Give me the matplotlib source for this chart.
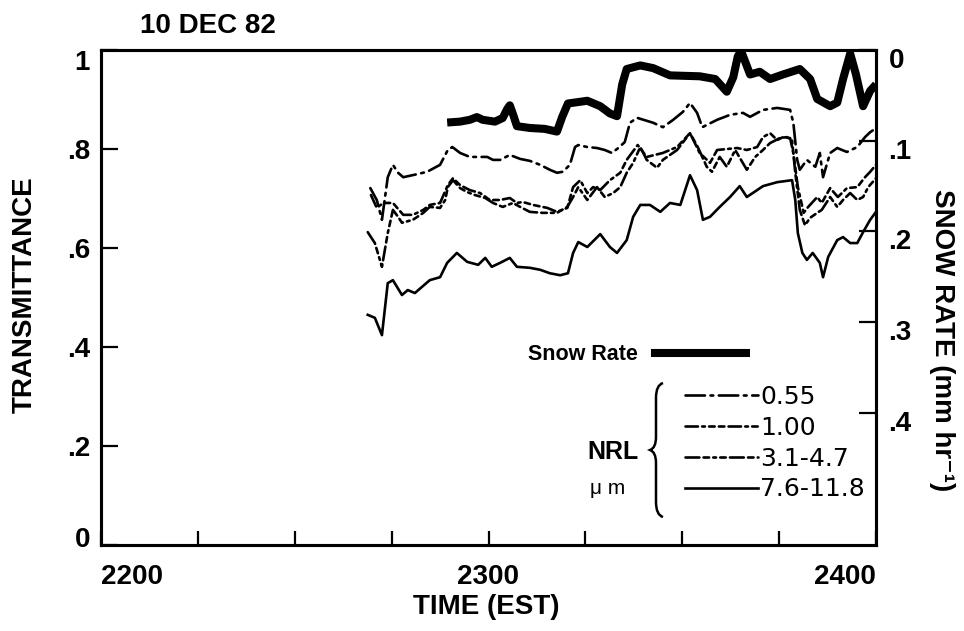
import matplotlib
matplotlib.use("Agg")
import matplotlib.pyplot as plt
from matplotlib.lines import Line2D
from matplotlib.path import Path
from matplotlib.patches import PathPatch
from matplotlib.transforms import ScaledTranslation, Affine2D

plt.rcParams["font.family"] = ["Liberation Sans", "DejaVu Sans"]
plt.rcParams["font.weight"] = "bold"
plt.rcParams["lines.scale_dashes"] = False

# Time axis: minutes after 2200 EST
snow_t = [53.6, 55.6, 57.1, 58.2, 59.1, 61.0, 62.2, 62.9, 63.3, 63.8,
          64.4, 66.4, 68.7, 70.6, 71.4, 72.3, 75.3, 77.3, 78.8, 79.9,
          80.7, 81.4, 83.5, 85.5, 88.1, 92.7, 95.1, 96.9, 97.9, 98.6,
          99.1, 99.7, 100.5, 102.0, 103.6, 105.6, 108.2, 109.8, 110.9, 112.9,
          114.0, 114.9, 116.0, 116.9, 118.0, 119.1, 120.0]
snow_rate = [0.080, 0.079, 0.077, 0.074, 0.077, 0.079, 0.075, 0.065, 0.061, 0.071,
             0.084, 0.086, 0.087, 0.090, 0.074, 0.059, 0.056, 0.062, 0.070, 0.073,
             0.038, 0.021, 0.017, 0.020, 0.028, 0.029, 0.032, 0.046, 0.030, 0.007,
             0.001, 0.012, 0.027, 0.024, 0.032, 0.027, 0.021, 0.032, 0.054, 0.062,
             0.058, 0.032, 0.004, 0.027, 0.062, 0.045, 0.038]

# 0.55 um
t_055 = [41.7, 42.7, 43.5, 44.4, 45.2, 46.0, 46.8, 48.9, 50.5, 52.5,
         53.7, 54.4, 55.6, 57.1, 58.7, 59.8, 60.7, 61.8, 63.3, 64.9,
         66.4, 68.0, 69.5, 70.6, 71.5, 72.6, 73.4, 73.9, 75.3, 76.8,
         78.0, 79.1, 80.1, 81.1, 81.9, 83.0, 85.5, 87.0, 88.6, 90.1,
         91.2, 92.3, 93.1, 95.4, 97.4, 99.4, 100.5, 102.5, 104.7, 106.7,
         107.2, 107.8, 108.2, 109.3, 110.6, 111.3, 111.8, 112.9, 114.0, 115.5,
         117.1, 118.3, 119.1, 120.0]
tr_055 = [0.721, 0.697, 0.657, 0.743, 0.768, 0.752, 0.743, 0.749, 0.754, 0.768,
          0.798, 0.804, 0.792, 0.784, 0.784, 0.784, 0.778, 0.778, 0.788, 0.780,
          0.776, 0.768, 0.758, 0.752, 0.754, 0.768, 0.804, 0.808, 0.804, 0.802,
          0.798, 0.792, 0.802, 0.814, 0.853, 0.863, 0.853, 0.844, 0.859, 0.875,
          0.893, 0.873, 0.844, 0.859, 0.869, 0.873, 0.865, 0.879, 0.883, 0.879,
          0.853, 0.778, 0.758, 0.778, 0.764, 0.792, 0.743, 0.792, 0.802, 0.794,
          0.804, 0.824, 0.834, 0.842]

# 1.00 um
t_100 = [41.8, 42.7, 43.7, 45.2, 46.8, 48.3, 49.9, 50.9, 52.5, 53.7,
         54.5, 55.6, 57.1, 58.7, 60.2, 61.8, 63.3, 64.4, 65.3, 66.9,
         69.1, 70.6, 72.2, 73.1, 74.2, 75.3, 76.2, 77.3, 78.8, 80.4,
         81.4, 83.1, 84.5, 87.0, 89.2, 91.2, 92.7, 94.3, 95.4, 98.5,
         100.0, 101.6, 102.5, 103.6, 104.7, 105.6, 106.7, 107.2, 107.9, 108.8,
         109.5, 110.9, 111.6, 112.9, 114.1, 115.5, 117.1, 118.3, 119.1, 120.0]
tr_100 = [0.707, 0.681, 0.691, 0.691, 0.667, 0.667, 0.677, 0.687, 0.691, 0.727,
          0.741, 0.727, 0.717, 0.711, 0.697, 0.697, 0.701, 0.691, 0.693, 0.687,
          0.681, 0.673, 0.681, 0.723, 0.737, 0.711, 0.723, 0.717, 0.737, 0.752,
          0.778, 0.808, 0.784, 0.792, 0.804, 0.832, 0.792, 0.772, 0.798, 0.802,
          0.798, 0.804, 0.824, 0.832, 0.818, 0.824, 0.822, 0.792, 0.723, 0.671,
          0.683, 0.703, 0.691, 0.721, 0.703, 0.721, 0.723, 0.743, 0.754, 0.768]

# 3.1-4.7 um
t_347 = [41.3, 42.4, 43.5, 44.4, 45.2, 46.0, 46.6, 48.3, 49.9, 50.9,
         52.5, 53.3, 53.7, 54.5, 55.6, 56.7, 57.9, 59.5, 60.7, 62.2,
         63.8, 64.9, 66.4, 68.4, 70.6, 72.2, 73.1, 73.9, 75.3, 76.8,
         78.0, 79.3, 80.4, 81.4, 82.4, 83.5, 84.5, 86.1, 87.0, 89.2,
         91.2, 92.4, 93.8, 94.6, 95.8, 96.9, 98.2, 100.0, 101.3, 102.5,
         103.6, 105.1, 106.2, 107.0, 107.5, 108.2, 109.0, 109.8, 110.9, 111.6,
         112.9, 114.0, 114.9, 116.0, 117.1, 118.0, 118.8, 120.0]
tr_347 = [0.632, 0.610, 0.562, 0.630, 0.677, 0.663, 0.651, 0.657, 0.671, 0.683,
          0.681, 0.697, 0.723, 0.737, 0.721, 0.713, 0.707, 0.701, 0.691, 0.683,
          0.691, 0.683, 0.673, 0.671, 0.671, 0.683, 0.703, 0.723, 0.697, 0.723,
          0.703, 0.711, 0.723, 0.752, 0.772, 0.804, 0.778, 0.762, 0.778, 0.798,
          0.832, 0.804, 0.764, 0.754, 0.784, 0.764, 0.798, 0.758, 0.784, 0.798,
          0.812, 0.822, 0.824, 0.818, 0.752, 0.677, 0.646, 0.661, 0.671, 0.677,
          0.703, 0.683, 0.697, 0.711, 0.697, 0.703, 0.723, 0.741]

# 7.6-11.8 um
t_118 = [41.3, 42.4, 43.5, 44.4, 45.2, 46.6, 47.5, 48.6, 50.9, 52.5,
         53.6, 55.1, 56.7, 58.4, 59.5, 60.5, 61.8, 63.3, 64.4, 66.4,
         68.0, 69.5, 71.1, 72.3, 73.1, 73.9, 75.3, 77.3, 78.8, 79.9,
         81.4, 82.4, 83.5, 85.0, 86.6, 88.1, 89.7, 91.2, 92.3, 93.2,
         94.3, 95.8, 97.4, 98.9, 100.0, 102.5, 104.7, 107.0, 107.5, 107.9,
         108.6, 109.3, 110.2, 111.3, 111.8, 112.6, 114.0, 114.9, 116.0, 117.1,
         118.0, 119.1, 120.0]
tr_118 = [0.465, 0.459, 0.424, 0.529, 0.535, 0.505, 0.515, 0.509, 0.535, 0.541,
          0.570, 0.590, 0.572, 0.566, 0.580, 0.562, 0.570, 0.580, 0.562, 0.560,
          0.556, 0.549, 0.545, 0.549, 0.590, 0.612, 0.602, 0.628, 0.602, 0.590,
          0.616, 0.663, 0.687, 0.687, 0.673, 0.691, 0.687, 0.747, 0.717, 0.657,
          0.663, 0.683, 0.703, 0.725, 0.703, 0.725, 0.733, 0.737, 0.697, 0.630,
          0.590, 0.576, 0.590, 0.570, 0.541, 0.582, 0.616, 0.622, 0.610, 0.610,
          0.632, 0.657, 0.673]

band_labels = ["0.55", "1.00", "3.1-4.7", "7.6-11.8"]
x_ticks = [0, 60, 120]
x_ticklabels = ["2200", "2300", "2400"]
x_minor = [15, 30, 45, 75, 90, 105]
left_ticks = [0, 0.2, 0.4, 0.6, 0.8, 1.0]
left_ticklabels = ["0", ".2", ".4", ".6", ".8", "1"]
right_ticks = [0, 0.1, 0.2, 0.3, 0.4]
right_ticklabels = ["0", ".1", ".2", ".3", ".4"]

W, H = 964, 631
fig = plt.figure(figsize=(W / 100, H / 100), dpi=100)


def fx(px):
    return px / W


def fy(py):
    return 1 - py / H


ax = fig.add_axes([fx(101), fy(545), (876 - 101) / W, (545 - 50) / H])
ax2 = ax.twinx()

LW = 1.9
styles = [
    (0, (14, 4, 2, 4)),
    (0, (9, 3, 2, 3, 4, 3, 4, 3)),
    (0, (10, 3, 4, 3, 2, 3, 4, 3)),
    "-",
]
series = [(t_055, tr_055), (t_100, tr_100), (t_347, tr_347), (t_118, tr_118)]
for (t, v), ls in zip(series, styles):
    ax.plot(t, v, color="black", lw=LW, linestyle=ls,
            dash_capstyle="round", solid_joinstyle="round")

ax2.plot(snow_t, snow_rate, color="black", lw=5.8,
         solid_joinstyle="round", solid_capstyle="butt")

ax.set_xlim(0, 120)
ax.set_ylim(0, 1)
ax2.set_ylim(0.546, 0)

for a in (ax, ax2):
    for s in a.spines.values():
        s.set_linewidth(2.2)

ax.set_xticks(x_ticks)
ax.set_xticklabels(x_ticklabels)
ax.set_xticks(x_minor, minor=True)
ax.tick_params(axis="x", which="both", direction="in", length=10, width=1.6,
               pad=14, labelsize=20)
ax.set_yticks(left_ticks)
ax.set_yticklabels(left_ticklabels)
ax.tick_params(axis="y", direction="in", length=12, width=1.6, pad=8,
               labelsize=20)
ax2.set_yticks(right_ticks)
ax2.set_yticklabels(right_ticklabels)
ax2.tick_params(axis="y", direction="in", length=12, width=1.6, pad=9,
                labelsize=20)

xl = ax.get_xticklabels()
xl[0].set_ha("left")
xl[-1].set_ha("right")


def shift(label, dy_px):
    label.set_transform(label.get_transform() +
                        ScaledTranslation(0, dy_px / 100, fig.dpi_scale_trans))


yl = ax.get_yticklabels()
shift(yl[0], 8)
shift(yl[-1], -10)
for lab in ax2.get_yticklabels():
    shift(lab, -8)

# Titles and axis captions
fig.text(fx(140), fy(26), "10 DEC 82", ha="left", va="center", fontsize=20)
fig.text(fx(25), fy(295), "TRANSMITTANCE", rotation=90, ha="center",
         va="center", fontsize=20)
fig.text(fx(486), fy(607), "TIME (EST)", ha="center", va="center", fontsize=20)
fig.text(fx(942), fy(340), "SNOW RATE (mm hr\u207b\u00b9)", rotation=270,
         ha="center", va="center", fontsize=20)

# Legends
snow_handle = Line2D([], [], color="black", lw=5.8)
fig.legend([snow_handle], ["Snow Rate"], loc="center left",
           bbox_to_anchor=(fx(528), fy(355)), markerfirst=False,
           frameon=False, prop={"size": 15.5, "weight": "bold"},
           handlelength=4.2, handletextpad=0.8, borderpad=0,
           borderaxespad=0)

band_handles = [Line2D([], [], color="black", lw=LW, linestyle=ls,
                       dash_capstyle="round") for ls in styles]
fig.legend(band_handles, band_labels, loc="upper left",
           bbox_to_anchor=(fx(685), fy(385)), frameon=False,
           prop={"family": "DejaVu Sans", "size": 18, "weight": "normal"},
           handlelength=2.9, handletextpad=0.1, labelspacing=0.27,
           borderpad=0, borderaxespad=0)

fig.text(fx(587), fy(452), "NRL", ha="left", va="center", fontsize=18)
fig.text(fx(590), fy(489), "\u03bc m", ha="left", va="center", fontsize=15,
         fontweight="normal")

# Curly brace grouping the wavelength bands
px_to_fig = Affine2D().scale(1 / W, -1 / H).translate(0, 1) + fig.transFigure
verts = [(663, 383), (656, 385), (656, 398), (656, 437), (656, 448), (650, 450),
         (656, 452), (656, 463), (656, 502), (656, 515), (663, 517)]
codes = [Path.MOVETO, Path.CURVE3, Path.CURVE3, Path.LINETO, Path.CURVE3,
         Path.CURVE3, Path.CURVE3, Path.CURVE3, Path.LINETO, Path.CURVE3,
         Path.CURVE3]
fig.add_artist(PathPatch(Path(verts, codes), fill=False, lw=1.8,
                         edgecolor="black", transform=px_to_fig))

fig.savefig("out.png", dpi=100)
